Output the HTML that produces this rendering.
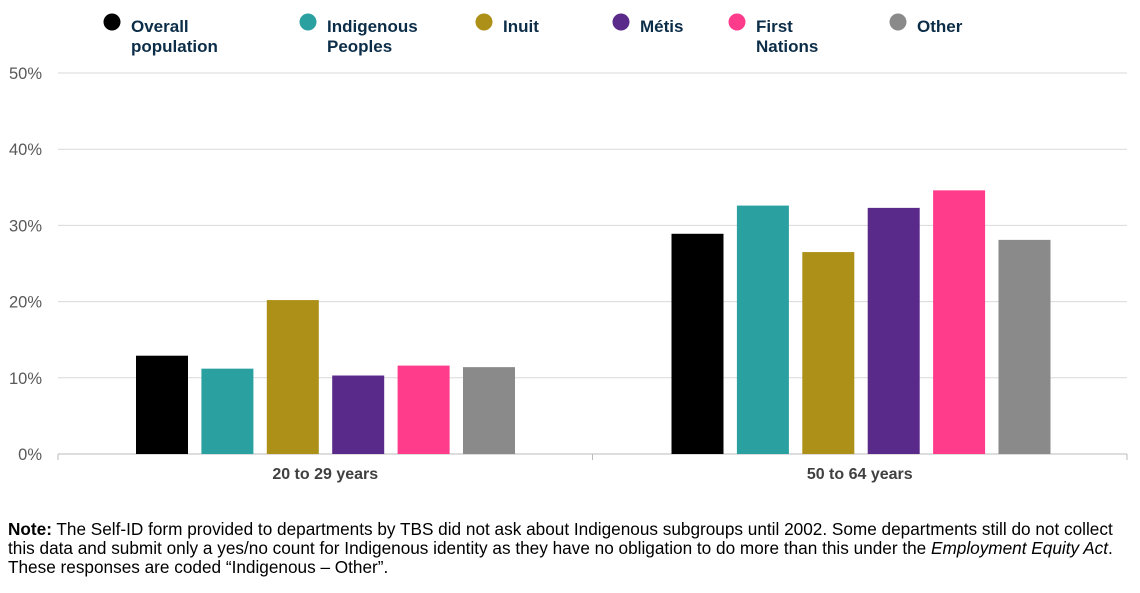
<!DOCTYPE html>
<html><head><meta charset="utf-8"><style>
body{margin:0;background:#fff;width:1140px;height:593px;overflow:hidden;font-family:"Liberation Sans",sans-serif}
.note{position:absolute;left:8px;top:520px;font-size:17.2px;line-height:19px;color:#000;white-space:nowrap}
</style></head><body>
<svg width="1140" height="500" style="position:absolute;left:0;top:0" id="c"></svg>
<div class="note"><b>Note:</b> The Self-ID form provided to departments by TBS did not ask about Indigenous subgroups until 2002. Some departments still do not collect<br>this data and submit only a yes/no count for Indigenous identity as they have no obligation to do more than this under the <i>Employment Equity Act</i>.<br>These responses are coded “Indigenous – Other”.</div>
<script>
const categories=["20 to 29 years","50 to 64 years"];
const seriesNames=[["Overall","population"],["Indigenous","Peoples"],["Inuit"],["Métis"],["First","Nations"],["Other"]];
const colors=["#000000","#2aa1a0","#ad9018","#5a2a8a","#ff3c8c","#8a8a8a"];
const values=[[12.9,28.9],[11.2,32.6],[20.2,26.5],[10.3,32.3],[11.6,34.6],[11.4,28.1]];
const ticks=[0,10,20,30,40,50];
const tickLabels=["0%","10%","20%","30%","40%","50%"];
const legendX=[112,308,484,621,737,898];
const svg=document.getElementById('c');const NS="http://www.w3.org/2000/svg";
function el(t,a,p){const e=document.createElementNS(NS,t);for(const k in a)e.setAttribute(k,a[k]);(p||svg).appendChild(e);return e;}
const y=v=>454-v*7.62;
const x0=58,x1=1127,gw=(x1-x0)/categories.length;
ticks.forEach((t,i)=>{
 const g=el('line',{x1:x0,x2:x1,y1:y(t),y2:y(t),stroke:t===0?'#bbb':'#d9d9d9','stroke-width':1});
 
 const l=el('text',{x:42,y:y(t)+6,'text-anchor':'end','font-size':16.5,fill:'#595959'});l.textContent=tickLabels[i];
 
});
[x0,x0+gw,x1].forEach(xx=>{const t=el('line',{x1:xx,x2:xx,y1:454,y2:460,stroke:'#bbb'});});
categories.forEach((c,ci)=>{
 const start=x0+ci*gw+78+ci;
 values.forEach((s,si)=>{
  const v=s[ci];const bx=start+si*65.4;
  const r=el('rect',{x:bx,y:y(v),width:52,height:y(0)-y(v),fill:colors[si]});
  
 });
 const t=el('text',{x:x0+ci*gw+gw/2,y:479,'text-anchor':'middle','font-size':16,'font-weight':'bold',fill:'#404040'});t.textContent=c;
 
});
seriesNames.forEach((n,i)=>{
 const c=el('circle',{cx:legendX[i],cy:22,r:8.5,fill:colors[i]});
 
 n.forEach((line,j)=>{const t=el('text',{x:legendX[i]+19,y:32+j*20,'font-size':17,'font-weight':'bold',fill:'#0c2d48'});t.textContent=line;
 });
});
</script>
</body></html>
